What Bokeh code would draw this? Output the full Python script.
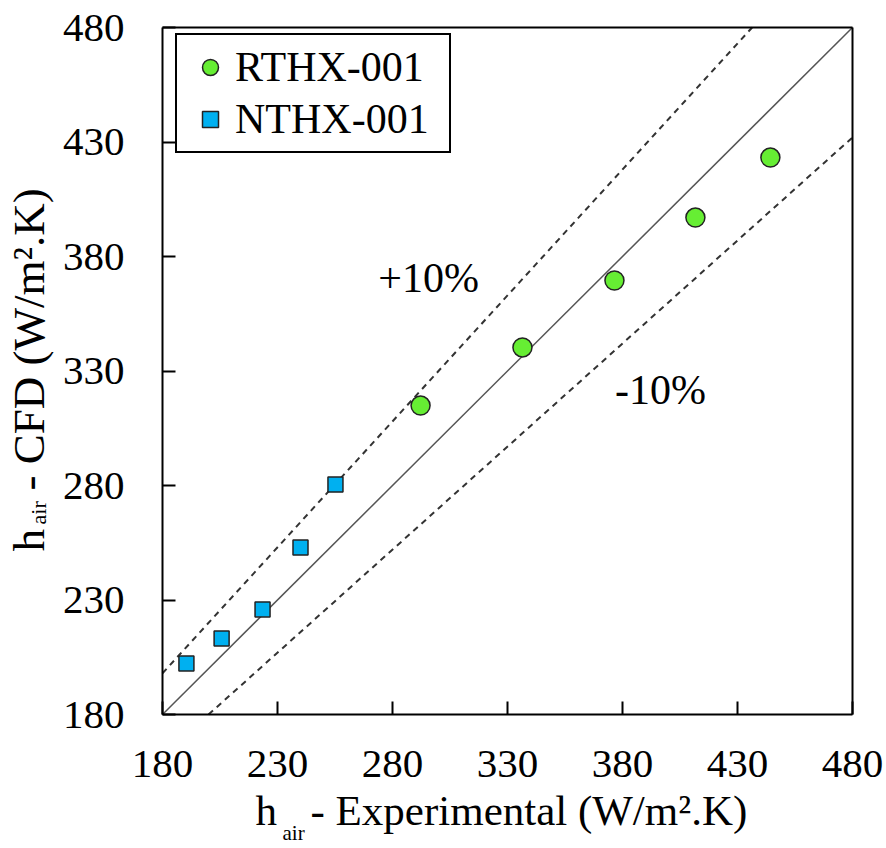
from bokeh.plotting import figure
from bokeh.models import Label, FixedTicker, Range1d, Legend, LegendItem, LinearAxis
from bokeh.embed import file_html
from bokeh.resources import INLINE
import math

# ---- data ----
rthx_exp = [292.2, 336.5, 376.5, 411.7, 444.3]
rthx_cfd = [314.9, 340.3, 369.5, 397.0, 423.2]
nthx_exp = [190.4, 205.7, 223.5, 240.0, 255.2]
nthx_cfd = [202.3, 213.2, 225.9, 252.9, 280.4]
ticks = [180, 230, 280, 330, 380, 430, 480]
axis_lo, axis_hi = 180, 480
band_factors = [1.1, 0.9]
band_labels = ["+10%", "-10%"]
band_label_pos = [(295.7, 370.4), (396.5, 321.5)]

FONT = "Liberation Serif"
W, H = 886, 848
FL, FR, FT, FB = 162, 852, 27, 714  # where the 180..480 box sits on the canvas

# the frame covers the whole canvas; the axes sit at fixed locations
kx = (FR - FL) / (axis_hi - axis_lo)
ky = (FB - FT) / (axis_hi - axis_lo)
x_range = Range1d(axis_lo - FL / kx, axis_hi + (W - FR) / kx)
y_range = Range1d(axis_lo - (H - FB) / ky, axis_hi + FT / ky)

p = figure(width=W, height=H, output_backend="svg", toolbar_location=None,
           x_range=x_range, y_range=y_range,
           min_border_left=0, min_border_right=0, min_border_top=0, min_border_bottom=0)
p.grid.visible = False
p.outline_line_color = None
p.background_fill_color = "white"
p.border_fill_color = "white"

for ax in (p.xaxis[0], p.yaxis[0]):
    ax.fixed_location = axis_lo
    ax.bounds = (axis_lo, axis_hi)
    ax.ticker = FixedTicker(ticks=ticks)
    ax.axis_line_color = "black"
    ax.axis_line_width = 2
    ax.major_tick_line_color = "black"
    ax.major_tick_line_width = 2
    ax.major_tick_in = 13
    ax.major_tick_out = 0
    ax.minor_tick_line_color = None
    ax.major_label_text_font = FONT
    ax.major_label_text_font_size = "41px"
    ax.major_label_text_color = "black"
p.xaxis.major_label_standoff = 36
p.yaxis.major_label_standoff = 38

for side in ("above", "right"):
    ax = LinearAxis(fixed_location=axis_hi, bounds=(axis_lo, axis_hi),
                    ticker=FixedTicker(ticks=[]), axis_line_color="black", axis_line_width=2,
                    major_tick_line_color=None, minor_tick_line_color=None,
                    major_label_text_color=None)
    p.add_layout(ax, side)

# reference lines y = x and y = x +/- 10 %
def ref_line(f, **kw):
    x0 = max(axis_lo, axis_lo / f)
    x1 = min(axis_hi, axis_hi / f)
    p.line([x0, x1], [f * x0, f * x1], **kw)

ref_line(1.0, line_color="#555555", line_width=1.5)
for f in band_factors:
    ref_line(f, line_color="#333333", line_width=2, line_dash="6 5")

r1 = p.scatter(rthx_exp, rthx_cfd, marker="circle", size=19,
               fill_color="#66EE33", line_color="#222222", line_width=1.5)
r2 = p.scatter(nthx_exp, nthx_cfd, marker="square", size=15,
               fill_color="#00B0F0", line_color="#222222", line_width=1.5)

legend = Legend(items=[LegendItem(label="RTHX-001", renderers=[r1]),
                       LegendItem(label="NTHX-001", renderers=[r2])],
                location=(175, H - 153), margin=0, padding=8, spacing=4,
                glyph_width=50, glyph_height=40, label_standoff=0, label_width=206,
                label_text_font=FONT, label_text_font_size="42px",
                label_text_color="black",
                border_line_color="black", border_line_width=2, border_line_alpha=1.0,
                background_fill_color="white", background_fill_alpha=1.0)
p.add_layout(legend)

for txt, (lx, ly) in zip(band_labels, band_label_pos):
    p.add_layout(Label(x=lx, y=ly, text=txt, text_font=FONT, text_font_size="42px",
                       text_align="center", text_baseline="middle", text_color="black"))

def add_lbl(cx, cy, txt, size, angle=0.0):
    # cx, cy: canvas pixels from the top-left; the frame is the whole canvas
    p.add_layout(Label(x=cx, y=H - cy, x_units="screen", y_units="screen", text=txt,
                       text_font=FONT, text_font_size=size, angle=angle,
                       text_align="left", text_baseline="middle", text_color="black"))

# x axis title: h_air - Experimental (W/m².K)
add_lbl(255, 810, "h", "43px")
add_lbl(282, 832, "air", "21px")
add_lbl(310, 810, "- Experimental (W/m\u00b2.K)", "43px")

# y axis title (rotated): h_air - CFD (W/m².K)
add_lbl(28, 551, "h", "45px", math.pi / 2)
add_lbl(38, 524, "air", "22px", math.pi / 2)
add_lbl(28, 490, "- CFD (W/m\u00b2.K)", "45px", math.pi / 2)

open("out.html", "w").write(file_html(p, INLINE))
